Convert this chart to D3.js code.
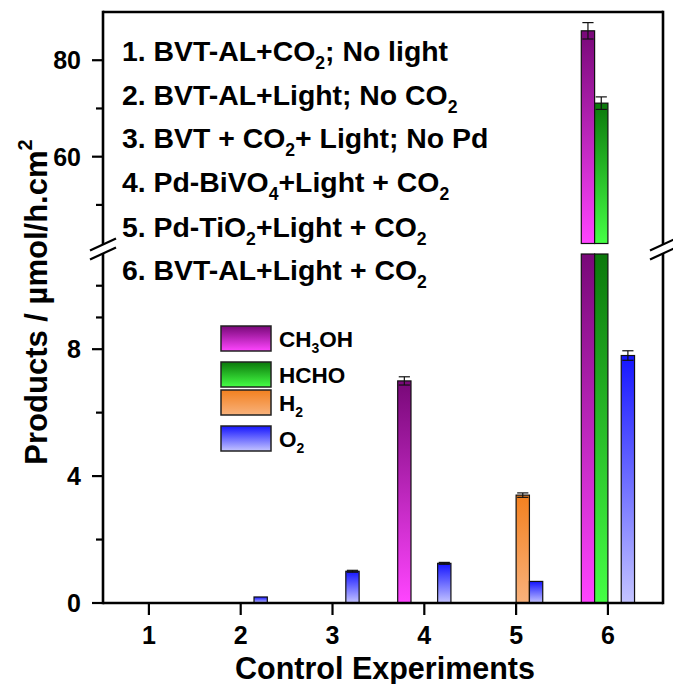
<!DOCTYPE html>
<html>
<head>
<meta charset="utf-8">
<script src="https://cdn.jsdelivr.net/npm/d3@7"></script>
<style>
  html, body { margin: 0; padding: 0; background: #fff; }
  svg { display: block; }
  text { font-family: "Liberation Sans", Arial, sans-serif; font-weight: bold; fill: #000; }
</style>
</head>
<body>
<svg id="chart" width="673" height="684"></svg>
<script>
(function () {
// ---------------- data ----------------
const categories = [1, 2, 3, 4, 5, 6];
const seriesNames = ["CH3OH", "HCHO", "H2", "O2"];
const ch3oh    = [0, 0,    0,   7.0,  0,    86.1];
const hcho     = [0, 0,    0,   0,    0,    71.1];
const h2       = [0, 0,    0,   0,    3.4,  0];
const o2       = [0, 0.19, 1.0, 1.25, 0.68, 7.8];
const ch3ohErr = [0, 0,    0,   0.13, 0,    1.7];
const hchoErr  = [0, 0,    0,   0,    0,    1.3];
const h2Err    = [0, 0,    0,   0,    0.07, 0];
const o2Err    = [0, 0,    0.03,0.03, 0,    0.15];
const lowerTicks = [0, 4, 8];
const lowerMinor = [2, 6, 9, 10];
const upperTicks = [60, 80];
const upperMinor = [50, 70];
const notes = [
  [["1. BVT-AL+CO", false], ["2", true], ["; No light", false]],
  [["2. BVT-AL+Light; No CO", false], ["2", true]],
  [["3. BVT + CO", false], ["2", true], ["+ Light; No Pd", false]],
  [["4. Pd-BiVO", false], ["4", true], ["+Light + CO", false], ["2", true]],
  [["5. Pd-TiO", false], ["2", true], ["+Light + CO", false], ["2", true]],
  [["6. BVT-AL+Light + CO", false], ["2", true]]
];
const legendLabels = [
  [["CH", false], ["3", true], ["OH", false]],
  [["HCHO", false]],
  [["H", false], ["2", true]],
  [["O", false], ["2", true]]
];
const xTitle = "Control Experiments";

// ---------------- layout ----------------
const svg = d3.select("#chart");
const pLeft = 103, pRight = 663, pTop = 12, pBottom = 603;
const breakLow = 254, breakHigh = 243.5;

const x = d3.scaleLinear().domain([0.5, 6.6]).range([pLeft, pRight]);
const yLow = d3.scaleLinear().domain([0, 11]).range([pBottom, breakLow]);
const yHigh = d3.scaleLinear().domain([42, 90]).range([breakHigh, pTop]);
const lowMax = 11, highMin = 42;

const colors = {
  CH3OH: ["#780878", "#ff45ff"],
  HCHO:  ["#0b780b", "#45ff45"],
  H2:    ["#f3801f", "#f8b27c"],
  O2:    ["#1515ff", "#c4c4ff"]
};

const defs = svg.append("defs");
seriesNames.forEach(s => {
  const g = defs.append("linearGradient").attr("id", "grad-" + s)
    .attr("x1", 0).attr("y1", 0).attr("x2", 0).attr("y2", 1);
  g.append("stop").attr("offset", "0%").attr("stop-color", colors[s][0]);
  g.append("stop").attr("offset", "100%").attr("stop-color", colors[s][1]);
});

// ---------------- bars ----------------
const values = { CH3OH: ch3oh, HCHO: hcho, H2: h2, O2: o2 };
const errs = { CH3OH: ch3ohErr, HCHO: hchoErr, H2: h2Err, O2: o2Err };
const bw = 0.145;
const offsets = [-2, -1, 0, 1];

const yOf = v => (v <= lowMax ? yLow(v) : yHigh(v));

const barG = svg.append("g");
seriesNames.forEach((s, si) => {
  categories.forEach((c, ci) => {
    const v = values[s][ci];
    if (v <= 0) return;
    const x0 = x(c + offsets[si] * bw);
    const x1 = x(c + (offsets[si] + 1) * bw);
    const segs = [];
    if (v <= lowMax) segs.push([yLow(v), yLow(0)]);
    else { segs.push([yLow(lowMax), yLow(0)]); segs.push([yHigh(v), yHigh(highMin)]); }
    segs.forEach(([ya, yb]) => {
      barG.append("rect")
        .attr("x", x0).attr("y", ya).attr("width", x1 - x0).attr("height", yb - ya)
        .attr("fill", "url(#grad-" + s + ")")
        .attr("stroke", "#111").attr("stroke-width", 1.2);
    });
    const e = errs[s][ci];
    if (e > 0) {
      const cx = (x0 + x1) / 2, hw = (x1 - x0) * 0.42;
      const yt = yOf(v + e), yb = yOf(v - e);
      barG.append("line").attr("x1", cx).attr("x2", cx).attr("y1", yt).attr("y2", yb)
        .attr("stroke", "#111").attr("stroke-width", 1.2);
      [yt, yb].forEach(yy => barG.append("line")
        .attr("x1", cx - hw).attr("x2", cx + hw).attr("y1", yy).attr("y2", yy)
        .attr("stroke", "#111").attr("stroke-width", 1.2));
    }
  });
});

// ---------------- axes ----------------
const axW = 2.6;
const axG = svg.append("g").attr("stroke", "#000").attr("stroke-width", axW).attr("fill", "none");
const bTop = 244.5, bBot = 253.5;
[pLeft, pRight].forEach(ax => {
  axG.append("line").attr("x1", ax).attr("x2", ax).attr("y1", pTop - axW/2).attr("y2", bTop);
  axG.append("line").attr("x1", ax).attr("x2", ax).attr("y1", bBot).attr("y2", pBottom + axW/2);
});
axG.append("line").attr("x1", pLeft).attr("x2", pRight).attr("y1", pTop).attr("y2", pTop);
axG.append("line").attr("x1", pLeft).attr("x2", pRight).attr("y1", pBottom).attr("y2", pBottom);
[pLeft, pRight].forEach(ax => {
  [bTop, bBot].forEach(yy => {
    axG.append("line").attr("x1", ax - 13).attr("y1", yy + 6).attr("x2", ax + 13).attr("y2", yy - 6)
      .attr("stroke-width", 2.2);
  });
});

const tickG = svg.append("g").attr("stroke", "#000").attr("stroke-width", 2.2);
const major = 11, minor = 7;
lowerTicks.forEach(v => tickG.append("line").attr("x1", pLeft - major).attr("x2", pLeft).attr("y1", yLow(v)).attr("y2", yLow(v)));
lowerMinor.forEach(v => tickG.append("line").attr("x1", pLeft - minor).attr("x2", pLeft).attr("y1", yLow(v)).attr("y2", yLow(v)));
upperTicks.forEach(v => tickG.append("line").attr("x1", pLeft - major).attr("x2", pLeft).attr("y1", yHigh(v)).attr("y2", yHigh(v)));
upperMinor.forEach(v => tickG.append("line").attr("x1", pLeft - minor).attr("x2", pLeft).attr("y1", yHigh(v)).attr("y2", yHigh(v)));
categories.forEach(c => tickG.append("line").attr("x1", x(c)).attr("x2", x(c)).attr("y1", pBottom).attr("y2", pBottom + 12));

const labG = svg.append("g");
lowerTicks.forEach(v => labG.append("text").attr("x", pLeft - 22).attr("y", yLow(v)).attr("dy", "0.36em")
  .attr("text-anchor", "end").attr("font-size", 25).text(v));
upperTicks.forEach(v => labG.append("text").attr("x", pLeft - 22).attr("y", yHigh(v)).attr("dy", "0.36em")
  .attr("text-anchor", "end").attr("font-size", 25).text(v));
categories.forEach(c => labG.append("text").attr("x", x(c)).attr("y", 644)
  .attr("text-anchor", "middle").attr("font-size", 25).text(c));

labG.append("text").attr("x", 385).attr("y", 679).attr("text-anchor", "middle")
  .attr("font-size", 30.5).text(xTitle);
const ytl = labG.append("text").attr("transform", "translate(47,302) rotate(-90)")
  .attr("text-anchor", "middle").attr("font-size", 31);
ytl.append("tspan").text("Products / µmol/h.cm");
ytl.append("tspan").attr("font-size", 20).attr("dy", "-0.75em").text("2");

function rich(sel, parts, fs) {
  parts.forEach(([t, sub], i) => {
    const ts = sel.append("tspan").text(t);
    if (sub) ts.attr("font-size", fs * 0.62).attr("dy", fs * 0.28);
    else if (i > 0 && parts[i - 1][1]) ts.attr("dy", -fs * 0.28);
  });
}

const noteY = [61, 105, 148, 192, 237, 280];
notes.forEach((parts, i) => {
  const t = labG.append("text").attr("x", 122).attr("y", noteY[i]).attr("font-size", 28.4);
  rich(t, parts, 28.4);
});

const legY = [326, 362, 390, 426];
const legH = 25;
seriesNames.forEach((s, i) => {
  labG.append("rect").attr("x", 221).attr("y", legY[i]).attr("width", 50).attr("height", legH)
    .attr("fill", "url(#grad-" + s + ")").attr("stroke", "#222").attr("stroke-width", 1.5);
  const t = labG.append("text").attr("x", 279).attr("y", legY[i] + legH / 2).attr("dy", "0.36em")
    .attr("font-size", 22.5);
  rich(t, legendLabels[i], 22.5);
});
})();
</script>
</body>
</html>
